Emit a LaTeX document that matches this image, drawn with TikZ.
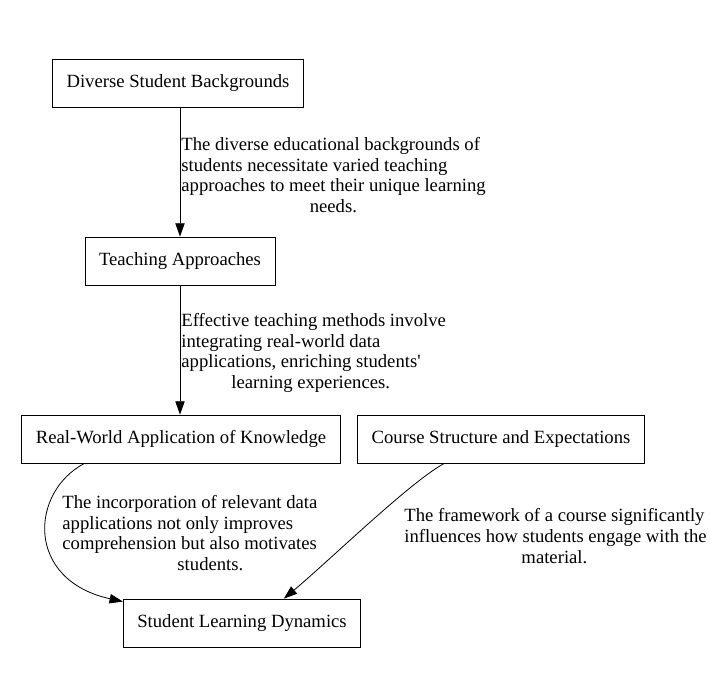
\documentclass[tikz,border=0pt]{standalone}
\usepackage{fontspec}
\setmainfont{Liberation Serif}
\usetikzlibrary{arrows.meta,calc}
\newcommand{\lastline}[2]{\makebox[#1]{#2}}
\begin{document}
\begin{tikzpicture}[
    x=0.75pt, y=-0.75pt,
    font=\fontsize{14}{15.5}\selectfont,
    line width=0.6pt,
    box/.style={rectangle, draw, minimum height=36pt, inner xsep=10.5pt},
    note/.style={align=left, inner sep=0pt, anchor=west},
    link/.style={-{Triangle[length=10pt,width=7pt]}}
]
\useasboundingbox (0,0) rectangle (710,673);
% boxes
\node[box] (backgrounds) at (178,83) {Diverse Student Backgrounds};
\node[box] (teaching) at (180,261) {Teaching Approaches};
\node[box] (realworld) at (181,439) {Real-World Application of Knowledge};
\node[box] (course) at (501,439) {Course Structure and Expectations};
\node[box] (dynamics) at (242,623) {Student Learning Dynamics};
% labels
\node[note] (l1) at (181,175) {The diverse educational backgrounds of\\students necessitate varied teaching\\approaches to meet their unique learning\\\lastline{228pt}{needs.}};
\node[note] (l2) at (181,353) {Effective teaching methods involve\\integrating real-world data\\applications, enriching students\textquotesingle\\\lastline{194pt}{learning experiences.}};
\node[note] (l3) at (62,533) {The incorporation of relevant data\\applications not only improves\\comprehension but also motivates\\\lastline{222pt}{students.}};
\node[note] (l4) at (404,536) {The framework of a course significantly\\influences how students engage with the\\\lastline{225pt}{material.}};
% edges
\draw[link] (teaching.north |- backgrounds.south) -- (teaching.north);
\draw[link] (teaching.south) -- (realworld.north -| teaching.south);
\draw[link] ($(realworld.south west)+(63,0)$) .. controls (30,492) and (25,580) .. ($(dynamics.north west)+(0,3)$);
\draw[link] ($(course.south west)+(87,0)$) .. controls (410,482) and (330,560) .. ($(dynamics.north west)+(161,0)$);
\end{tikzpicture}
\end{document}
